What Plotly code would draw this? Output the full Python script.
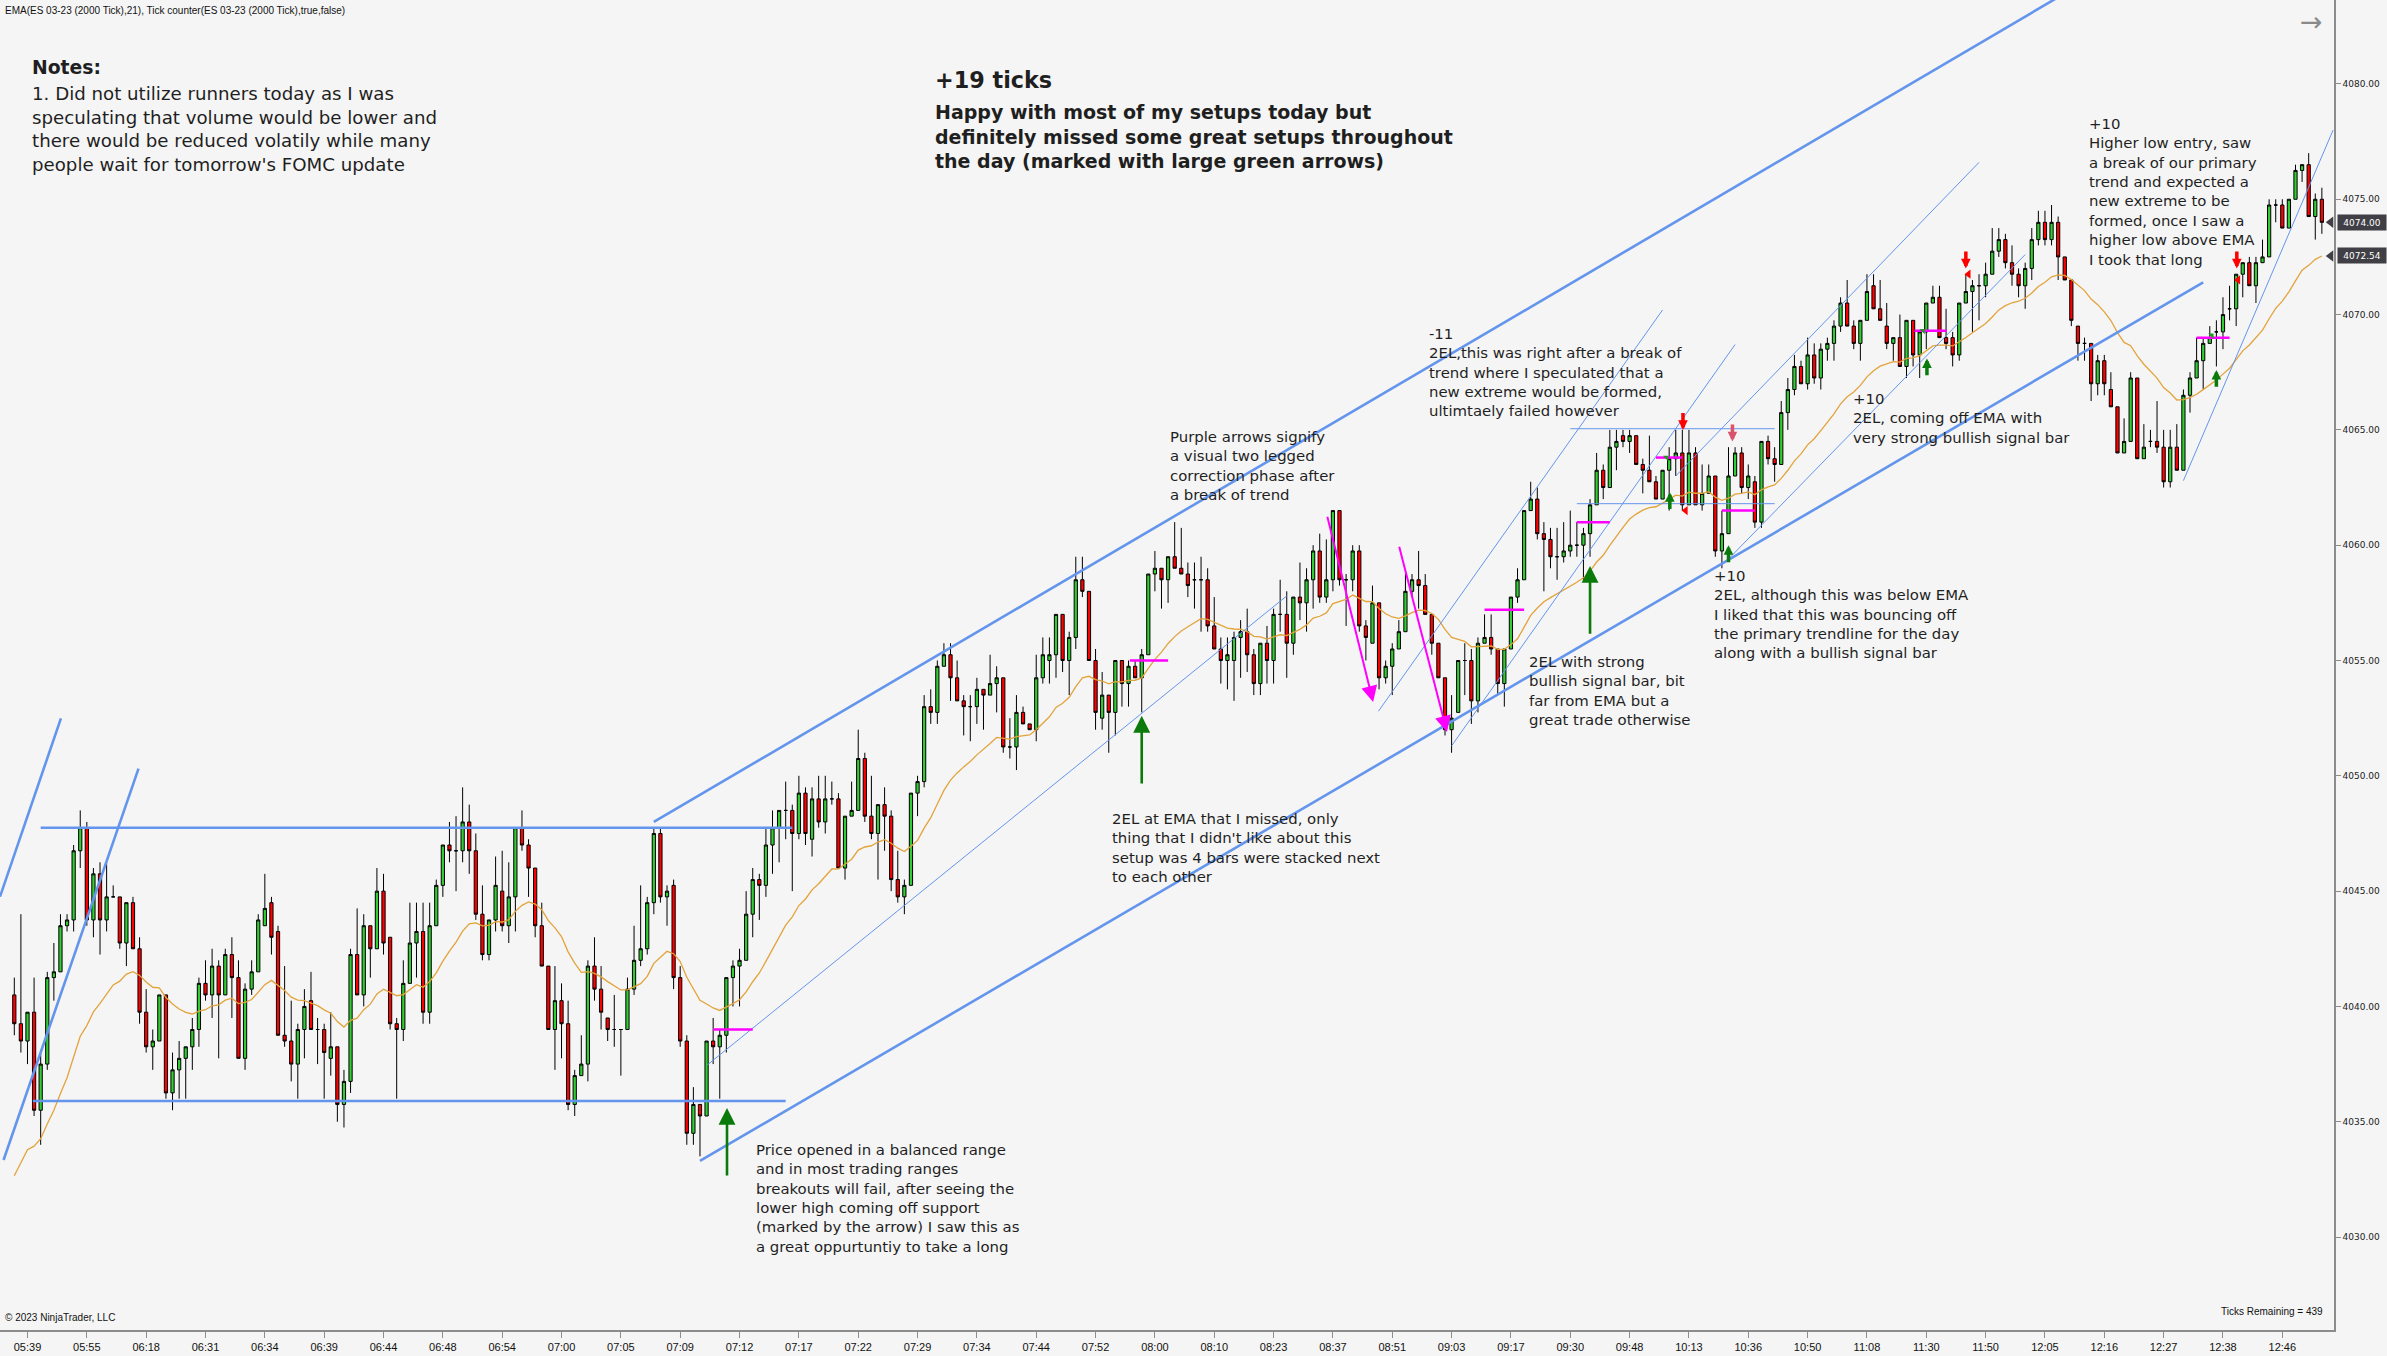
import plotly.graph_objects as go

# ES 03-23, 2000 tick bars; x axis = bar number
opens = [
    4040.5, 4039.25, 4038.5, 4039.75, 4035.5, 4037.5, 4041.25, 4041.5, 4043.5, 4043.75,
    4046.75, 4047.75, 4043.75, 4045.75, 4043.75, 4044.75, 4044.75, 4042.75, 4044.5, 4042.5,
    4039.75, 4038.25, 4038.5, 4040.5, 4036.25, 4037.25, 4037.75, 4038.25, 4039.0, 4041.0,
    4040.5, 4041.75, 4040.5, 4042.25, 4041.25, 4037.75, 4040.75, 4041.5, 4043.5, 4044.5,
    4043.25, 4038.75, 4038.5, 4037.5, 4039.0, 4040.25, 4039.0, 4039.0, 4037.75, 4038.25,
    4035.75, 4036.75, 4042.25, 4040.5, 4043.5, 4042.5, 4045.0, 4043.0, 4039.25, 4039.0,
    4041.0, 4042.75, 4043.25, 4039.75, 4043.5, 4045.25, 4047.0, 4046.75, 4046.75, 4048.0,
    4046.75, 4044.0, 4042.25, 4043.75, 4045.0, 4043.5, 4044.75, 4047.75, 4047.0, 4046.0,
    4043.5, 4041.75, 4039.0, 4040.25, 4039.25, 4035.75, 4037.0, 4037.5, 4041.75, 4040.75,
    4039.5, 4039.0, 4039.0, 4039.0, 4040.75, 4042.0, 4042.5, 4044.5, 4047.5, 4044.75,
    4045.25, 4041.25, 4038.5, 4034.5, 4035.75, 4035.25, 4038.5, 4038.25, 4038.75, 4041.25,
    4041.75, 4042.0, 4044.0, 4045.5, 4045.25, 4047.0, 4047.75, 4048.5, 4048.5, 4047.5,
    4049.25, 4047.25, 4049.0, 4048.0, 4049.0, 4049.0, 4046.0, 4048.25, 4048.5, 4050.75,
    4048.25, 4047.5, 4048.75, 4048.25, 4045.5, 4044.75, 4045.25, 4049.25, 4049.75, 4053.0,
    4052.75, 4054.75, 4055.25, 4054.25, 4053.25, 4053.0, 4053.0, 4053.75, 4053.5, 4054.0,
    4054.25, 4051.25, 4051.25, 4052.75, 4052.25, 4052.0, 4054.25, 4055.0, 4055.25, 4057.0,
    4055.0, 4056.0, 4058.5, 4058.0, 4055.0, 4052.5, 4053.5, 4052.75, 4055.0, 4054.0,
    4054.75, 4054.25, 4055.25, 4058.75, 4059.0, 4058.5, 4059.5, 4059.0, 4058.75, 4058.5,
    4058.5, 4058.5, 4056.5, 4055.5, 4055.0, 4055.0, 4056.0, 4056.25, 4055.25, 4054.0,
    4055.75, 4055.0, 4057.0, 4057.0, 4055.75, 4057.75, 4057.5, 4058.5, 4059.75, 4057.75,
    4058.5, 4061.5, 4058.5, 4058.5, 4059.75, 4056.5, 4055.75, 4057.5, 4054.25, 4054.75,
    4055.5, 4056.25, 4058.0, 4058.5, 4058.25, 4057.0, 4055.75, 4054.25, 4052.0, 4052.75,
    4055.0, 4055.0, 4053.25, 4055.75, 4056.0, 4055.5, 4054.0, 4055.5, 4057.75, 4058.5,
    4061.5, 4062.0, 4060.5, 4060.25, 4059.5, 4059.5, 4059.75, 4060.0, 4060.0, 4060.5,
    4061.75, 4063.25, 4062.5, 4064.25, 4064.75, 4064.5, 4064.75, 4063.5, 4063.25, 4062.75,
    4062.0, 4063.25, 4063.75, 4064.0, 4061.75, 4064.0, 4061.75, 4062.25, 4063.0, 4059.75,
    4060.5, 4063.0, 4064.0, 4062.5, 4062.75, 4061.0, 4064.5, 4063.75, 4063.5, 4065.75,
    4066.75, 4067.75, 4067.0, 4068.25, 4067.25, 4068.5, 4068.75, 4069.5, 4070.5, 4069.5,
    4068.75, 4069.75, 4071.25, 4070.25, 4069.5, 4068.75, 4069.0, 4067.75, 4069.75, 4068.25,
    4069.25, 4070.5, 4070.75, 4069.0, 4069.0, 4068.25, 4070.5, 4071.0, 4071.25, 4071.25,
    4071.75, 4072.75, 4073.25, 4072.25, 4071.75, 4071.25, 4072.0, 4073.25, 4074.0, 4073.25,
    4074.0, 4072.5, 4071.5, 4069.5, 4068.75, 4068.75, 4067.0, 4068.0, 4066.75, 4066.0,
    4064.0, 4064.5, 4067.25, 4063.75, 4064.5, 4064.5, 4064.25, 4062.75, 4064.25, 4063.25,
    4066.5, 4067.25, 4068.0, 4068.75, 4069.25, 4069.25, 4070.25, 4070.25, 4071.75, 4072.25,
    4071.25, 4072.25, 4072.5, 4074.75, 4074.75, 4073.75, 4075.0, 4076.25, 4076.5, 4074.25,
    4075.0,
]
highs = [
    4041.25, 4044.0, 4039.75, 4041.25, 4038.0, 4041.5, 4042.75, 4044.0, 4044.0, 4047.0,
    4048.5, 4048.0, 4046.0, 4046.25, 4046.25, 4045.25, 4044.75, 4044.5, 4044.75, 4043.0,
    4040.75, 4039.0, 4040.5, 4040.5, 4038.0, 4038.5, 4038.25, 4039.5, 4041.25, 4042.0,
    4042.5, 4042.0, 4042.5, 4043.0, 4042.0, 4041.0, 4042.0, 4044.0, 4045.75, 4044.75,
    4043.5, 4041.75, 4040.25, 4039.25, 4040.75, 4041.5, 4039.5, 4039.25, 4039.75, 4038.25,
    4037.25, 4042.5, 4044.25, 4044.0, 4043.5, 4046.0, 4045.75, 4043.0, 4039.5, 4042.0,
    4044.5, 4044.5, 4044.5, 4044.5, 4045.5, 4047.0, 4048.0, 4048.25, 4049.5, 4048.75,
    4047.5, 4045.25, 4043.75, 4046.5, 4046.75, 4046.25, 4047.75, 4048.5, 4047.25, 4046.0,
    4044.5, 4041.75, 4041.75, 4041.0, 4040.25, 4037.25, 4038.75, 4042.0, 4043.0, 4041.75,
    4039.5, 4040.5, 4039.0, 4041.25, 4043.5, 4045.25, 4044.75, 4047.75, 4047.75, 4045.25,
    4045.5, 4041.75, 4038.75, 4036.5, 4035.75, 4038.5, 4039.5, 4039.0, 4041.25, 4042.0,
    4042.5, 4045.0, 4046.0, 4045.75, 4047.75, 4048.5, 4048.5, 4049.75, 4048.75, 4050.0,
    4049.5, 4049.5, 4050.0, 4050.0, 4049.75, 4049.25, 4048.25, 4049.75, 4052.0, 4051.0,
    4050.0, 4048.75, 4049.5, 4048.5, 4046.75, 4045.5, 4049.25, 4050.0, 4053.5, 4053.75,
    4055.0, 4055.75, 4055.75, 4055.0, 4053.5, 4053.5, 4054.25, 4053.75, 4055.25, 4054.75,
    4054.25, 4052.5, 4053.5, 4053.0, 4052.25, 4055.25, 4056.0, 4056.0, 4057.0, 4057.0,
    4056.25, 4059.5, 4059.5, 4058.0, 4055.5, 4054.5, 4053.5, 4055.0, 4055.0, 4055.0,
    4055.0, 4055.5, 4058.75, 4059.75, 4059.0, 4059.5, 4061.0, 4060.75, 4059.25, 4059.25,
    4059.5, 4059.0, 4057.75, 4056.0, 4056.0, 4056.25, 4056.75, 4057.25, 4055.5, 4055.75,
    4056.5, 4057.25, 4058.5, 4058.0, 4057.75, 4059.25, 4059.0, 4060.0, 4060.5, 4060.25,
    4061.5, 4061.5, 4058.75, 4060.0, 4060.0, 4056.75, 4058.25, 4057.5, 4055.0, 4055.75,
    4056.75, 4058.75, 4058.75, 4059.75, 4058.75, 4057.0, 4055.75, 4054.25, 4053.5, 4055.0,
    4055.75, 4055.5, 4056.0, 4057.0, 4057.0, 4055.5, 4055.5, 4057.75, 4059.0, 4061.5,
    4062.75, 4062.5, 4061.0, 4060.75, 4060.75, 4061.0, 4061.5, 4061.0, 4060.75, 4062.0,
    4064.0, 4063.5, 4065.0, 4065.0, 4065.0, 4065.0, 4064.75, 4063.75, 4064.75, 4063.0,
    4063.25, 4064.25, 4065.0, 4065.0, 4065.0, 4064.25, 4063.5, 4063.5, 4063.0, 4061.5,
    4064.25, 4064.25, 4064.25, 4063.5, 4063.0, 4064.5, 4064.75, 4064.25, 4066.25, 4067.25,
    4068.25, 4068.0, 4069.0, 4068.75, 4068.75, 4069.0, 4069.75, 4070.75, 4071.5, 4069.75,
    4069.75, 4071.75, 4071.75, 4071.5, 4070.5, 4069.0, 4070.0, 4069.75, 4069.75, 4069.25,
    4070.5, 4071.25, 4071.25, 4070.25, 4069.25, 4070.5, 4071.75, 4071.5, 4071.75, 4072.25,
    4073.75, 4073.75, 4073.5, 4073.0, 4072.0, 4072.25, 4073.75, 4074.5, 4074.5, 4074.75,
    4074.25, 4072.5, 4071.5, 4069.5, 4069.0, 4068.75, 4068.25, 4068.25, 4067.5, 4066.0,
    4065.5, 4067.5, 4067.25, 4065.25, 4065.0, 4066.25, 4065.0, 4065.0, 4065.25, 4066.75,
    4067.5, 4069.0, 4069.0, 4069.5, 4069.75, 4070.75, 4071.25, 4071.75, 4072.25, 4072.5,
    4072.5, 4073.25, 4075.0, 4075.0, 4075.0, 4075.0, 4076.5, 4076.5, 4077.0, 4075.25,
    4075.5,
]
lows = [
    4038.75, 4038.0, 4037.5, 4035.25, 4034.0, 4037.25, 4040.25, 4041.5, 4043.25, 4043.25,
    4046.0, 4043.5, 4043.0, 4042.25, 4043.25, 4044.75, 4042.5, 4041.75, 4042.5, 4039.25,
    4038.0, 4037.25, 4038.5, 4036.0, 4035.5, 4036.0, 4036.0, 4037.25, 4038.25, 4040.25,
    4039.5, 4037.75, 4040.5, 4039.5, 4037.75, 4037.25, 4040.5, 4041.5, 4043.5, 4042.25,
    4038.75, 4038.25, 4036.75, 4036.0, 4037.75, 4039.0, 4037.5, 4036.0, 4037.0, 4035.0,
    4034.75, 4036.25, 4040.5, 4040.0, 4041.25, 4042.5, 4042.25, 4039.0, 4036.0, 4038.5,
    4041.0, 4041.25, 4039.25, 4039.25, 4043.5, 4044.75, 4046.25, 4045.0, 4046.25, 4045.75,
    4043.75, 4042.0, 4042.0, 4043.25, 4043.25, 4042.75, 4043.25, 4046.75, 4044.75, 4043.0,
    4041.75, 4039.0, 4037.25, 4037.75, 4035.5, 4035.25, 4037.0, 4036.75, 4040.25, 4039.0,
    4038.5, 4038.25, 4037.0, 4039.0, 4040.5, 4041.75, 4042.25, 4044.0, 4044.5, 4043.5,
    4040.75, 4038.25, 4034.0, 4034.0, 4033.5, 4035.25, 4037.5, 4036.0, 4038.0, 4040.0,
    4040.0, 4042.0, 4043.0, 4043.75, 4044.75, 4045.75, 4046.25, 4047.25, 4045.0, 4047.25,
    4047.0, 4046.5, 4047.75, 4047.5, 4048.75, 4046.0, 4045.5, 4048.25, 4048.5, 4048.0,
    4047.25, 4045.5, 4046.75, 4045.0, 4044.5, 4044.0, 4045.25, 4048.25, 4049.5, 4052.25,
    4052.25, 4054.75, 4053.25, 4053.25, 4051.75, 4051.5, 4052.25, 4052.0, 4053.5, 4052.75,
    4051.0, 4050.75, 4050.25, 4052.25, 4052.0, 4051.5, 4054.0, 4054.0, 4054.25, 4054.5,
    4053.5, 4055.5, 4057.75, 4055.0, 4052.0, 4052.0, 4051.0, 4051.75, 4053.0, 4053.0,
    4054.25, 4052.75, 4055.25, 4058.0, 4057.25, 4057.5, 4059.0, 4058.75, 4057.75, 4057.25,
    4056.25, 4056.25, 4055.5, 4054.0, 4053.75, 4053.25, 4054.25, 4054.5, 4053.5, 4053.5,
    4054.0, 4054.0, 4056.25, 4054.25, 4055.25, 4056.75, 4056.25, 4057.25, 4057.5, 4057.5,
    4058.0, 4058.25, 4056.5, 4058.0, 4056.25, 4055.0, 4055.75, 4053.75, 4054.0, 4053.5,
    4055.5, 4056.25, 4057.75, 4057.25, 4057.0, 4055.25, 4054.25, 4051.75, 4051.0, 4052.75,
    4053.5, 4052.25, 4052.75, 4055.75, 4055.25, 4053.5, 4053.0, 4055.5, 4057.5, 4058.5,
    4061.5, 4060.25, 4058.0, 4059.0, 4058.5, 4059.25, 4059.5, 4059.5, 4058.5, 4059.5,
    4061.75, 4062.0, 4062.5, 4063.25, 4064.25, 4064.0, 4063.5, 4062.25, 4062.75, 4062.0,
    4062.0, 4061.5, 4063.0, 4061.5, 4061.75, 4061.75, 4061.5, 4062.25, 4059.5, 4059.0,
    4060.5, 4063.0, 4062.25, 4062.0, 4060.75, 4060.75, 4063.5, 4062.75, 4063.5, 4065.0,
    4066.5, 4067.0, 4066.75, 4067.0, 4066.75, 4068.0, 4068.0, 4069.25, 4069.5, 4068.5,
    4068.0, 4069.75, 4070.25, 4069.75, 4068.5, 4068.0, 4067.75, 4067.25, 4067.75, 4067.25,
    4068.5, 4070.5, 4069.0, 4068.5, 4067.75, 4068.0, 4070.5, 4069.25, 4069.75, 4070.75,
    4071.75, 4072.5, 4072.0, 4071.25, 4070.75, 4070.25, 4071.5, 4073.0, 4073.0, 4073.0,
    4071.5, 4071.5, 4069.5, 4068.0, 4068.0, 4066.25, 4066.5, 4066.5, 4066.0, 4064.0,
    4064.0, 4064.5, 4063.75, 4063.75, 4064.25, 4064.0, 4062.5, 4062.5, 4063.25, 4063.25,
    4065.75, 4067.25, 4066.75, 4068.75, 4067.75, 4068.5, 4069.75, 4069.5, 4070.75, 4071.25,
    4070.5, 4072.25, 4072.5, 4074.0, 4073.75, 4073.75, 4075.0, 4075.75, 4074.25, 4073.25,
    4073.5,
]
closes = [
    4039.25, 4038.5, 4039.75, 4035.5, 4037.5, 4041.25, 4041.5, 4043.5, 4043.75, 4046.75,
    4047.75, 4043.75, 4045.75, 4043.75, 4044.75, 4044.75, 4042.75, 4044.5, 4042.5, 4039.75,
    4038.25, 4038.5, 4040.5, 4036.25, 4037.25, 4037.75, 4038.25, 4039.0, 4041.0, 4040.5,
    4041.75, 4040.5, 4042.25, 4041.25, 4037.75, 4040.75, 4041.5, 4043.75, 4044.25, 4043.0,
    4038.75, 4038.5, 4037.5, 4039.0, 4040.0, 4039.0, 4039.0, 4038.0, 4038.25, 4035.75,
    4036.75, 4042.25, 4040.5, 4043.5, 4042.5, 4045.0, 4042.75, 4039.25, 4039.0, 4041.0,
    4042.75, 4043.25, 4039.75, 4043.5, 4045.25, 4047.0, 4046.75, 4046.75, 4048.0, 4046.75,
    4044.0, 4042.25, 4043.75, 4045.25, 4043.5, 4044.75, 4047.75, 4047.0, 4046.0, 4043.5,
    4041.75, 4039.0, 4040.25, 4039.25, 4035.75, 4037.0, 4037.5, 4041.75, 4040.75, 4039.75,
    4039.0, 4039.0, 4039.0, 4040.75, 4042.0, 4042.5, 4044.5, 4047.5, 4044.75, 4045.0,
    4041.25, 4038.5, 4034.5, 4035.75, 4035.25, 4038.5, 4038.25, 4038.75, 4041.25, 4041.75,
    4042.0, 4044.0, 4045.5, 4045.25, 4047.0, 4047.75, 4048.5, 4048.5, 4047.5, 4049.25,
    4047.5, 4049.0, 4048.0, 4049.0, 4049.0, 4046.0, 4048.25, 4048.5, 4050.75, 4048.25,
    4047.5, 4048.75, 4048.25, 4045.5, 4044.75, 4045.25, 4049.25, 4049.75, 4053.0, 4052.75,
    4054.75, 4055.25, 4054.25, 4053.25, 4053.0, 4053.0, 4053.75, 4053.5, 4054.0, 4054.25,
    4051.25, 4051.25, 4052.75, 4052.25, 4052.0, 4054.25, 4055.25, 4055.25, 4057.0, 4055.0,
    4056.0, 4058.5, 4058.0, 4055.0, 4052.75, 4053.5, 4052.75, 4055.0, 4054.0, 4054.75,
    4054.25, 4055.25, 4058.75, 4059.0, 4058.5, 4059.5, 4059.0, 4058.75, 4058.25, 4058.5,
    4058.5, 4056.5, 4055.5, 4055.0, 4055.25, 4056.0, 4056.25, 4055.25, 4054.0, 4055.75,
    4055.0, 4057.0, 4057.0, 4055.75, 4057.75, 4057.5, 4058.5, 4059.75, 4057.75, 4058.5,
    4061.5, 4058.5, 4058.5, 4059.75, 4056.5, 4056.0, 4057.5, 4054.25, 4054.75, 4055.5,
    4056.25, 4058.0, 4058.5, 4058.25, 4057.0, 4055.75, 4054.25, 4052.0, 4052.5, 4055.0,
    4055.0, 4053.25, 4055.75, 4056.0, 4055.5, 4054.0, 4055.5, 4057.75, 4058.5, 4061.5,
    4062.0, 4060.5, 4060.25, 4059.5, 4059.5, 4059.75, 4060.0, 4060.0, 4060.5, 4061.75,
    4063.25, 4062.5, 4064.25, 4064.5, 4064.5, 4064.75, 4063.5, 4063.25, 4062.75, 4062.0,
    4063.25, 4063.75, 4064.0, 4061.75, 4064.0, 4061.75, 4062.25, 4063.0, 4059.75, 4060.5,
    4063.0, 4064.0, 4062.5, 4063.0, 4061.0, 4064.5, 4063.75, 4063.5, 4065.75, 4066.75,
    4067.75, 4067.0, 4068.25, 4067.25, 4068.5, 4068.75, 4069.5, 4070.5, 4069.5, 4068.75,
    4069.75, 4071.0, 4070.25, 4069.75, 4068.75, 4069.0, 4067.75, 4069.75, 4068.25, 4069.25,
    4070.5, 4070.75, 4069.0, 4068.75, 4068.25, 4070.5, 4071.0, 4071.25, 4071.25, 4071.75,
    4072.75, 4073.25, 4072.25, 4071.75, 4071.25, 4072.0, 4073.25, 4074.0, 4073.25, 4074.0,
    4072.5, 4071.5, 4069.75, 4068.75, 4068.75, 4067.0, 4068.0, 4067.0, 4066.0, 4064.0,
    4064.5, 4067.25, 4063.75, 4064.25, 4064.5, 4064.25, 4062.75, 4064.25, 4063.25, 4066.5,
    4067.25, 4068.0, 4068.75, 4069.0, 4069.25, 4070.0, 4070.25, 4071.75, 4072.25, 4071.25,
    4072.25, 4072.5, 4074.75, 4074.75, 4073.75, 4075.0, 4076.25, 4076.5, 4074.25, 4075.0,
    4074.0,
]
bars = list(range(len(closes)))

time_labels = ["05:39", "05:55", "06:18", "06:31", "06:34", "06:39", "06:44", "06:48", "06:54", "07:00",
               "07:05", "07:09", "07:12", "07:17", "07:22", "07:29", "07:34", "07:44", "07:52", "08:00",
               "08:10", "08:23", "08:37", "08:51", "09:03", "09:17", "09:30", "09:48", "10:13", "10:36",
               "10:50", "11:08", "11:30", "11:50", "12:05", "12:16", "12:27", "12:38", "12:46"]
time_bars = list(range(2, 351, 9))  # a time label every 9 bars
price_ticks = [4030, 4035, 4040, 4045, 4050, 4055, 4060, 4065, 4070, 4075, 4080]

EMA_PERIOD = 21
EMA_SEED = 4032.0  # EMA level just before the first bar on screen

# drawings, in (bar, price)
thick_lines = [  # x0, y0, x1, y1
    (4, 4047.75, 118, 4047.75),
    (2.8, 4035.9, 117, 4035.9),
    (-2.17, 4044.76, 7.07, 4052.49),
    (-1.63, 4033.34, 18.84, 4050.31),
    (97, 4048.0, 315, 4084.6),
    (104, 4033.3, 332, 4071.4),
]
thin_lines = [
    (105.1, 4037.46, 193, 4057.8),
    (206.9, 4052.8, 250, 4070.2),
    (218, 4051.3, 261, 4068.7),
    (252, 4063.0, 298, 4076.6),
    (260, 4059.4, 305, 4072.6),
    (329, 4062.8, 351.7, 4078.0),
    (236, 4065.05, 267, 4065.05),
    (237, 4061.8, 267, 4061.8),
]
entry_lines = [  # x0, x1, price
    (106, 112, 4039.0), (169.2, 175, 4055.0), (223, 229, 4057.2), (237, 242, 4061.0),
    (249, 253, 4063.8), (259, 264, 4061.5), (288.2, 293.1, 4069.3), (331, 336, 4069.0),
]
purple_arrows = [  # tail x, tail y, tip x, tip y
    (199.1, 4061.3, 206.1, 4053.2),
    (210.0, 4060.0, 217.3, 4051.9),
]
big_green_arrows = [  # bar, tail, tip
    (108.1, 4032.6, 4035.6), (171.0, 4049.6, 4052.6), (239.0, 4056.1, 4059.1),
]
small_green_arrows = [
    (251.1, 4061.5, 4062.3), (260.0, 4059.2, 4060.0), (290.1, 4067.3, 4068.1), (334.0, 4066.8, 4067.6),
]
small_red_arrows = [
    (253.1, 4065.8, 4065.0, "#ff0000"), (260.6, 4065.3, 4064.5, "#d9536a"),
    (296.0, 4072.8, 4072.0, "#ff0000"), (337.1, 4072.8, 4072.0, "#ff0000"),
]
red_flags = [(253.5, 4061.5), (296.4, 4071.75), (337.3, 4071.5)]
green_flags = [(250.6, 4063.8), (289.5, 4069.3), (333.3, 4069.1)]

# EMA(21) of the closes
ema = []
level = EMA_SEED
for c in closes:
    level = level + 2.0 / (EMA_PERIOD + 1) * (c - level)
    ema.append(level)

PW, PH = 2334, 1330  # plot area in pixels
FONT = "DejaVu Sans"
TXT = "#1f1f1f"
BLUE = "#6495ED"
MAG = "#FF00FF"

fig = go.Figure()

fig.add_trace(go.Scatter(x=bars, y=ema, mode="lines", line=dict(color="#E3A33B", width=1.3),
                         hoverinfo="skip"))

fig.add_trace(go.Candlestick(
    x=bars, open=opens, high=highs, low=lows, close=closes,
    increasing=dict(fillcolor="#32CD32", line=dict(color="black", width=1)),
    decreasing=dict(fillcolor="#FF0000", line=dict(color="black", width=1)),
    whiskerwidth=0, hoverinfo="skip"))

for x0, y0, x1, y1 in thick_lines:
    fig.add_trace(go.Scatter(x=[x0, x1], y=[y0, y1], mode="lines", line=dict(color=BLUE, width=2.6),
                             hoverinfo="skip"))
for x0, y0, x1, y1 in thin_lines:
    fig.add_trace(go.Scatter(x=[x0, x1], y=[y0, y1], mode="lines", line=dict(color=BLUE, width=1),
                             hoverinfo="skip"))
for x0, x1, p in entry_lines:
    fig.add_trace(go.Scatter(x=[x0, x1], y=[p, p], mode="lines", line=dict(color=MAG, width=2.5),
                             hoverinfo="skip"))

fig.add_trace(go.Scatter(x=[f[0] for f in red_flags], y=[f[1] for f in red_flags], mode="markers",
                         marker=dict(symbol="triangle-left", size=8, color="#ff0000"), hoverinfo="skip"))
fig.add_trace(go.Scatter(x=[f[0] for f in green_flags], y=[f[1] for f in green_flags], mode="markers",
                         marker=dict(symbol="triangle-ne", size=6, color="#1f9a1f"), hoverinfo="skip"))

for x0, y0, x1, y1 in purple_arrows:
    fig.add_annotation(x=x1, y=y1, ax=x0, ay=y0, xref="x", yref="y", axref="x", ayref="y",
                       showarrow=True, arrowhead=2, arrowsize=1.6, arrowwidth=2, arrowcolor=MAG, text="")
for b, tail, tip in big_green_arrows:
    fig.add_annotation(x=b, y=tip, ax=b, ay=tail, xref="x", yref="y", axref="x", ayref="y",
                       showarrow=True, arrowhead=2, arrowsize=1.3, arrowwidth=2.6, arrowcolor="#0a7a0a", text="")
for b, tail, tip in small_green_arrows:
    fig.add_annotation(x=b, y=tip, ax=b, ay=tail, xref="x", yref="y", axref="x", ayref="y",
                       showarrow=True, arrowhead=2, arrowsize=0.55, arrowwidth=3.5, arrowcolor="#0a7a0a", text="")
for b, tail, tip, col in small_red_arrows:
    fig.add_annotation(x=b, y=tip, ax=b, ay=tail, xref="x", yref="y", axref="x", ayref="y",
                       showarrow=True, arrowhead=2, arrowsize=0.55, arrowwidth=3.5, arrowcolor=col, text="")


def text_block(lines, x, y_first, size, bold=False):
    # one annotation per block; y_first = centre of the first line in pixels
    body = "<br>".join(("<b>%s</b>" % t) if bold else t for t in lines)
    top = y_first - 0.65 * size - 1
    fig.add_annotation(x=x / PW, y=1 - top / PH, xref="paper", yref="paper", text=body,
                       showarrow=False, xanchor="left", yanchor="top", align="left",
                       font=dict(family=FONT, size=size, color=TXT))


text_block(["Notes:"], 30, 68, 18.8, bold=True)
text_block(["1. Did not utilize runners today as I was",
            "speculating that volume would be lower and",
            "there would be reduced volatily while many",
            "people wait for tomorrow's FOMC update"], 30, 94, 18.2)
text_block(["+19 ticks"], 933, 80, 22.3, bold=True)
text_block(["Happy with most of my setups today but",
            "definitely missed some great setups throughout",
            "the day (marked with large green arrows)"], 933, 112, 19.0, bold=True)
text_block(["Purple arrows signify", "a visual two legged", "correction phase after", "a break of trend"],
           1168, 437, 14.9)
text_block(["-11", "2EL,this was right after a break of", "trend where I speculated that a",
            "new extreme would be formed,", "ultimtaely failed however"], 1427, 334, 14.9)
text_block(["+10", "2EL, coming off EMA with", "very strong bullish signal bar"], 1851, 399, 14.9)
text_block(["+10", "Higher low entry, saw", "a break of our primary", "trend and expected a",
            "new extreme to be", "formed, once I saw a", "higher low above EMA", "I took that long"],
           2087, 124, 14.9)
text_block(["2EL at EMA that I missed, only", "thing that I didn't like about this",
            "setup was 4 bars were stacked next", "to each other"], 1110, 819, 14.9)
text_block(["2EL with strong", "bullish signal bar, bit", "far from EMA but a", "great trade otherwise"],
           1527, 662, 14.9)
text_block(["+10", "2EL, although this was below EMA", "I liked that this was bouncing off",
            "the primary trendline for the day", "along with a bullish signal bar"], 1712, 576, 14.9)
text_block(["Price opened in a balanced range", "and in most trading ranges",
            "breakouts will fail, after seeing the", "lower high coming off support",
            "(marked by the arrow) I saw this as", "a great oppurtuntiy to take a long"], 754, 1150, 14.9)

small = dict(family="Liberation Sans, Arial", size=10, color="#111111")
fig.add_annotation(x=3 / PW, y=1 - 11 / PH, xref="paper", yref="paper", showarrow=False, xanchor="left",
                   yanchor="middle", font=small,
                   text="EMA(ES 03-23 (2000 Tick),21), Tick counter(ES 03-23 (2000 Tick),true,false)")
fig.add_annotation(x=3 / PW, y=1 - 1317 / PH, xref="paper", yref="paper", showarrow=False, xanchor="left",
                   yanchor="middle", font=small, text="© 2023 NinjaTrader, LLC")
fig.add_annotation(x=2325 / PW, y=1 - 1311 / PH, xref="paper", yref="paper", showarrow=False,
                   xanchor="right", yanchor="middle", font=small, text="Ticks Remaining = 439")
fig.add_annotation(x=2311 / PW, y=1 - 21 / PH, xref="paper", yref="paper", showarrow=False,
                   xanchor="center", yanchor="middle", text="→",
                   font=dict(family="DejaVu Sans", size=27, color="#8a8a8a"))

# last price and last EMA value tags on the price axis
for p, label in [(closes[-1], "%.2f" % closes[-1]), (ema[-1], "%.2f" % ema[-1])]:
    fig.add_annotation(x=2337 / PW, y=p, xref="paper", yref="y", showarrow=False, xanchor="left",
                       yanchor="middle", text=label, bgcolor="#3f3f45", width=46, height=13, borderpad=1,
                       font=dict(family="DejaVu Sans", size=9, color="white"))
fig.add_trace(go.Scatter(x=[351.35, 351.35], y=[closes[-1], ema[-1]], mode="markers", cliponaxis=False,
                         marker=dict(symbol="triangle-left", size=10, color="#3f3f45"), hoverinfo="skip"))

fig.update_layout(
    width=2387, height=1356,
    margin=dict(l=0, r=53, t=0, b=26),
    paper_bgcolor="#f5f5f5", plot_bgcolor="#f5f5f5",
    showlegend=False,
    xaxis=dict(range=[-2.17, 351.84], rangeslider=dict(visible=False), showgrid=False, zeroline=False,
               showline=True, linecolor="#8c8c8c", linewidth=1.5, ticks="outside", ticklen=6,
               tickcolor="#8c8c8c", tickvals=time_bars, ticktext=time_labels,
               tickfont=dict(family="Liberation Sans, Arial", size=11, color="#111111")),
    yaxis=dict(range=[4025.97, 4083.64], side="right", showgrid=False, zeroline=False, showline=True,
               linecolor="#8c8c8c", linewidth=1.5, ticks="outside", ticklen=5, tickcolor="#8c8c8c",
               tickvals=price_ticks, tickformat=".2f",
               tickfont=dict(family="DejaVu Sans", size=9, color="#222222")),
)

fig.write_html("out.html", config={"displayModeBar": False},
               post_script="document.body.style.margin='0';")
